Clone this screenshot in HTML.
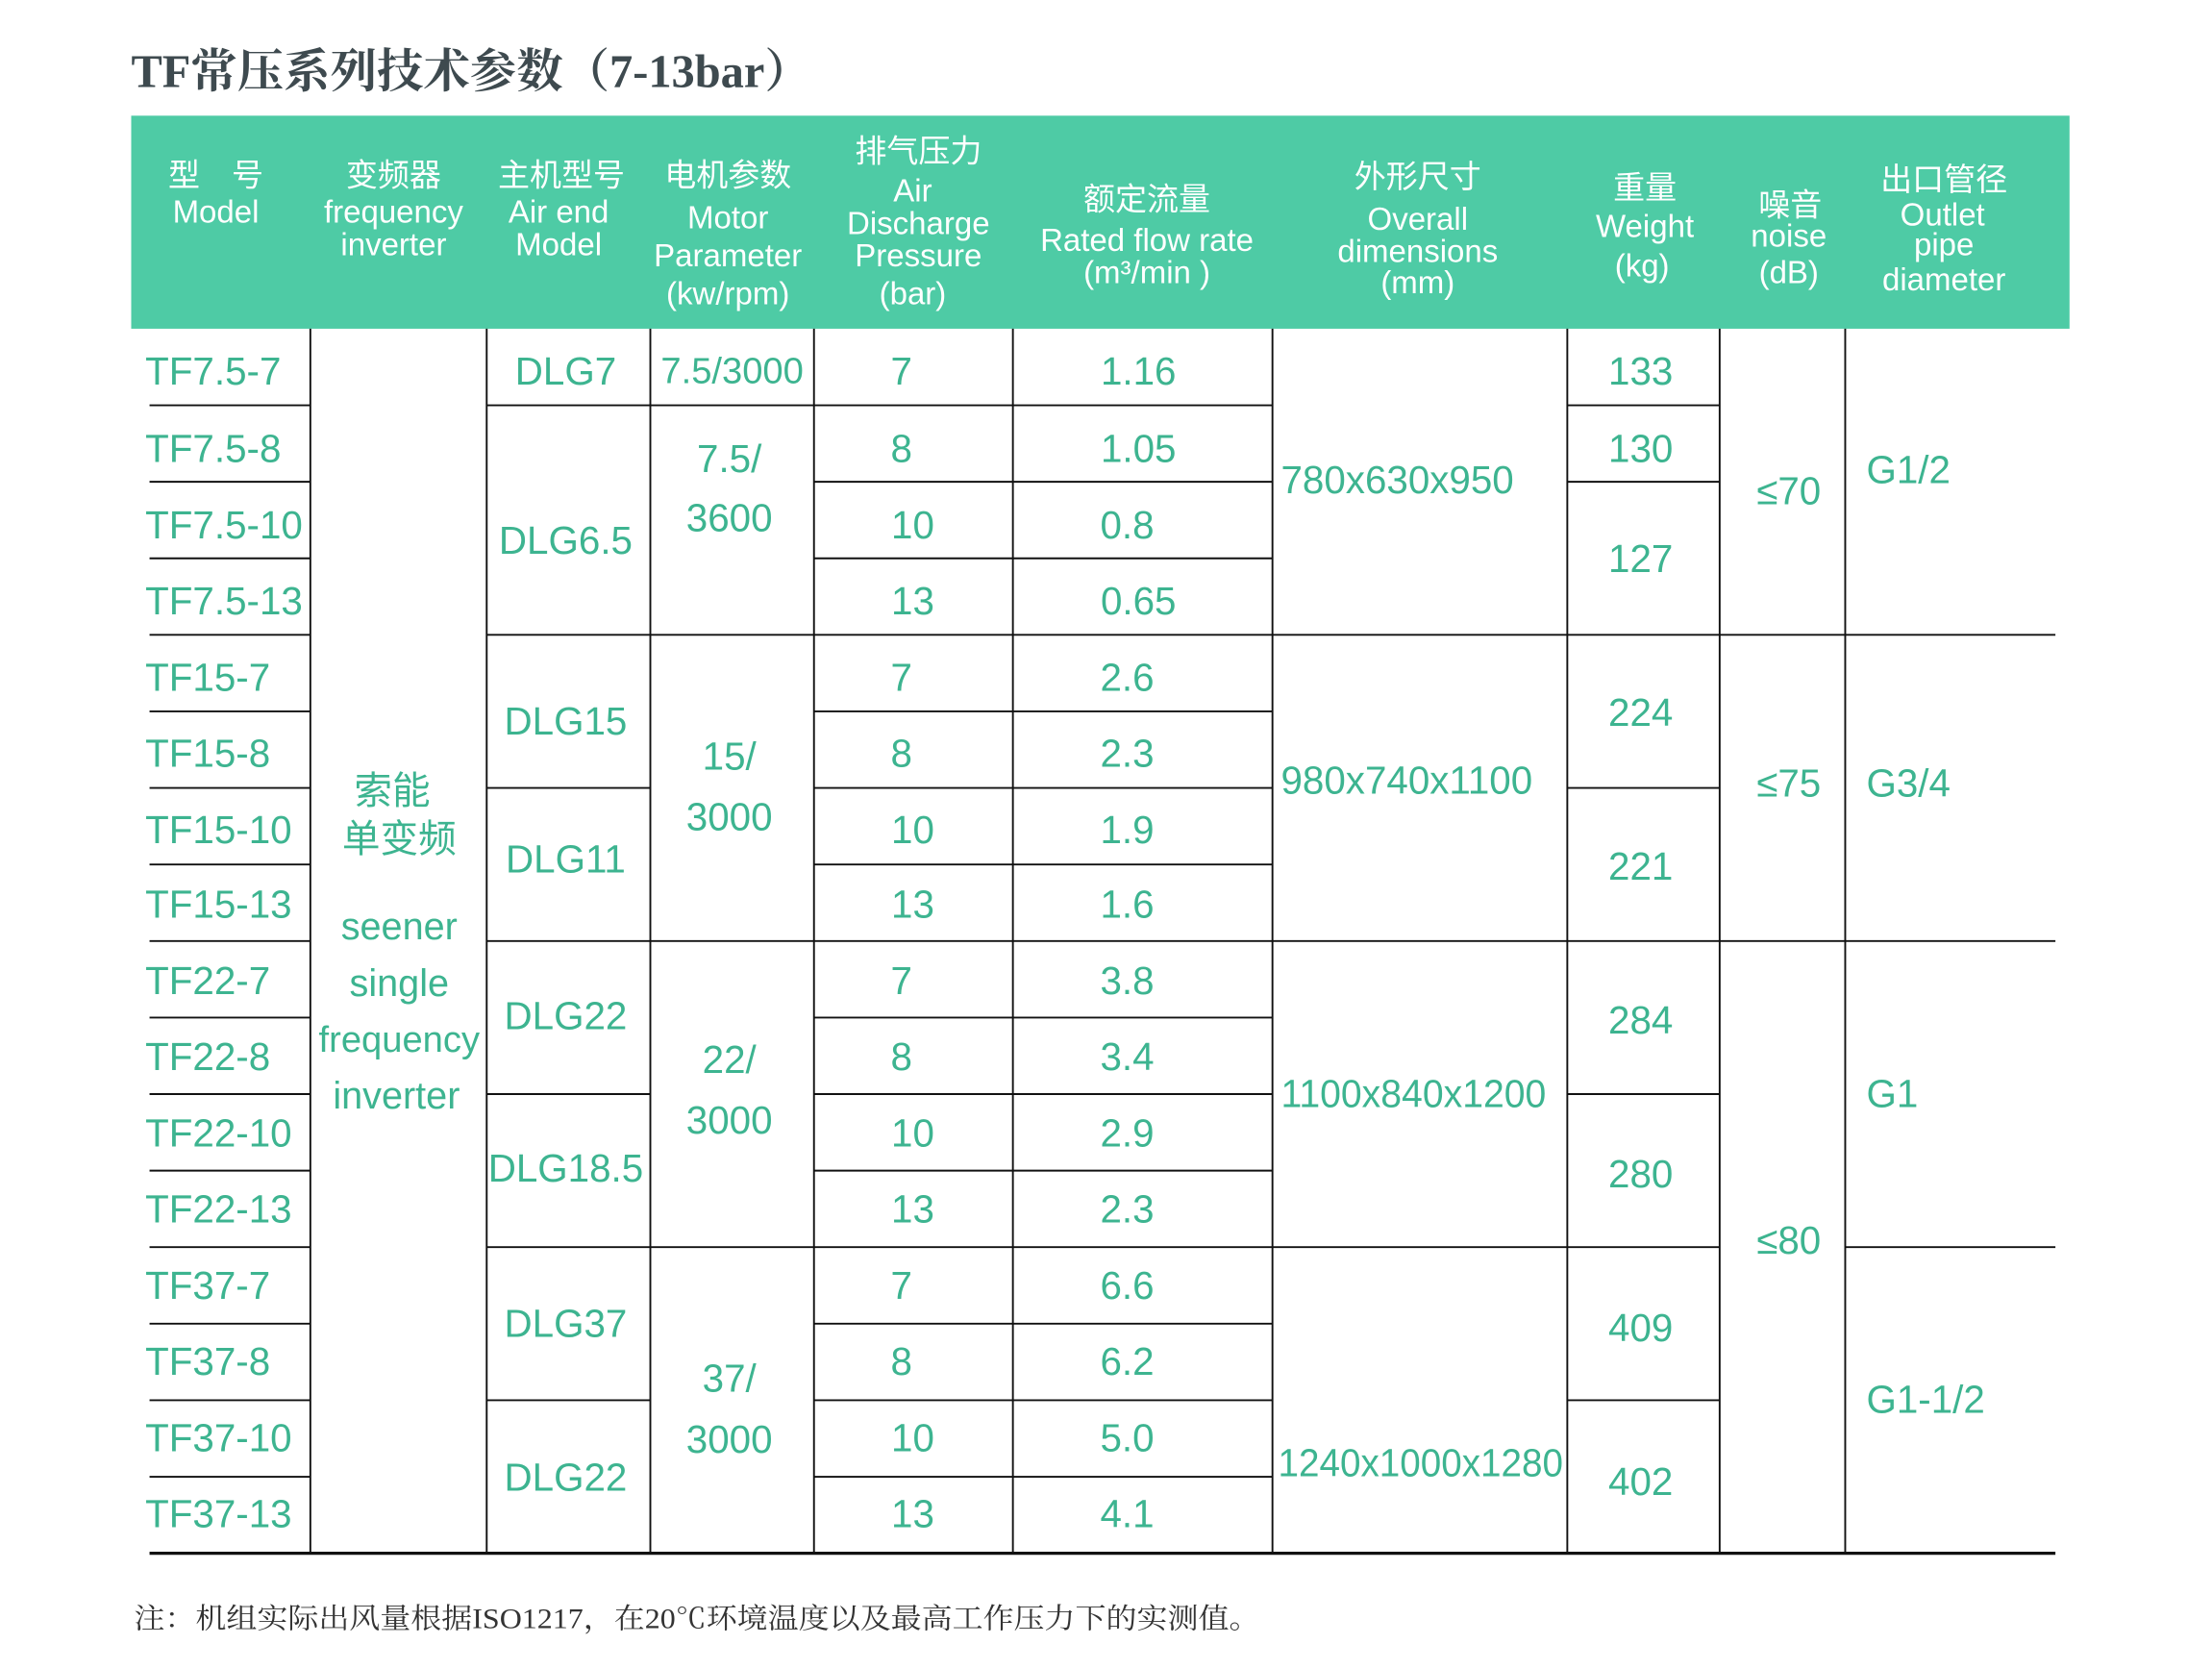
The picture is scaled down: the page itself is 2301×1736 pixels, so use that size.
<!DOCTYPE html>
<html><head><meta charset="utf-8">
<style>
html,body{margin:0;padding:0;background:#fff;}
svg{display:block;}
.h{fill:#fff;font-family:"Liberation Sans","Noto Sans CJK SC",sans-serif;font-size:22.5px;text-anchor:middle;dominant-baseline:central;}
.d{fill:#3db490;font-family:"Liberation Sans","Noto Sans CJK SC",sans-serif;font-size:27.5px;dominant-baseline:central;}
.c{text-anchor:middle;}
line{stroke:#111;stroke-width:1.3;}
</style></head><body>
<svg width="2301" height="1736" viewBox="0 0 1568 1183" preserveAspectRatio="none" xmlns="http://www.w3.org/2000/svg">
<text x="93" y="51" textLength="482" lengthAdjust="spacingAndGlyphs" style="font-family:'Liberation Serif','Noto Serif CJK SC',serif;font-weight:bold;font-size:33px;fill:#3e4a4f;dominant-baseline:central">TF常压系列技术参数（7-13bar）</text>
<rect x="93" y="82" width="1374" height="151" fill="#4ecba5"/>
<text class="h" x="153" y="124">型　号</text><text class="h" x="153" y="150">Model</text>
<text class="h" x="279" y="124">变频器</text><text class="h" x="279" y="150">frequency</text><text class="h" x="279" y="173">inverter</text>
<text class="h" x="398" y="124">主机型号</text><text class="h" x="396" y="150">Air end</text><text class="h" x="396" y="173">Model</text>
<text class="h" x="516" y="124">电机参数</text><text class="h" x="516" y="154">Motor</text><text class="h" x="516" y="181">Parameter</text><text class="h" x="516" y="208">(kw/rpm)</text>
<text class="h" x="651" y="107">排气压力</text><text class="h" x="647" y="135">Air</text><text class="h" x="651" y="158">Discharge</text><text class="h" x="651" y="181">Pressure</text><text class="h" x="647" y="208">(bar)</text>
<text class="h" x="813" y="141">额定流量</text><text class="h" x="813" y="170">Rated flow rate</text><text class="h" x="813" y="193">(m³/min )</text>
<text class="h" x="1005" y="125">外形尺寸</text><text class="h" x="1005" y="155">Overall</text><text class="h" x="1005" y="178">dimensions</text><text class="h" x="1005" y="200">(mm)</text>
<text class="h" x="1166" y="133">重量</text><text class="h" x="1166" y="160">Weight</text><text class="h" x="1164" y="188">(kg)</text>
<text class="h" x="1269" y="145">噪音</text><text class="h" x="1268" y="167">noise</text><text class="h" x="1268" y="193">(dB)</text>
<text class="h" x="1378" y="127">出口管径</text><text class="h" x="1377" y="152">Outlet</text><text class="h" x="1378" y="173">pipe</text><text class="h" x="1378" y="198">diameter</text>
<line x1="220" y1="233" x2="220" y2="1101"/><line x1="345" y1="233" x2="345" y2="1101"/>
<line x1="461" y1="233" x2="461" y2="1101"/><line x1="577" y1="233" x2="577" y2="1101"/>
<line x1="718" y1="233" x2="718" y2="1101"/><line x1="902" y1="233" x2="902" y2="1101"/>
<line x1="1111" y1="233" x2="1111" y2="1101"/><line x1="1219" y1="233" x2="1219" y2="1101"/>
<line x1="1308" y1="233" x2="1308" y2="1101"/>
<g>
<line x1="106" x2="220" y1="287.25" y2="287.25"/><line x1="106" x2="220" y1="341.5" y2="341.5"/><line x1="106" x2="220" y1="395.75" y2="395.75"/><line x1="106" x2="220" y1="450" y2="450"/><line x1="106" x2="220" y1="504.25" y2="504.25"/><line x1="106" x2="220" y1="558.5" y2="558.5"/><line x1="106" x2="220" y1="612.75" y2="612.75"/><line x1="106" x2="220" y1="667" y2="667"/><line x1="106" x2="220" y1="721.25" y2="721.25"/><line x1="106" x2="220" y1="775.5" y2="775.5"/><line x1="106" x2="220" y1="829.75" y2="829.75"/><line x1="106" x2="220" y1="884" y2="884"/><line x1="106" x2="220" y1="938.25" y2="938.25"/><line x1="106" x2="220" y1="992.5" y2="992.5"/><line x1="106" x2="220" y1="1046.75" y2="1046.75"/>
<line x1="577" x2="902" y1="287.25" y2="287.25"/><line x1="577" x2="902" y1="341.5" y2="341.5"/><line x1="577" x2="902" y1="395.75" y2="395.75"/><line x1="577" x2="902" y1="450" y2="450"/><line x1="577" x2="902" y1="504.25" y2="504.25"/><line x1="577" x2="902" y1="558.5" y2="558.5"/><line x1="577" x2="902" y1="612.75" y2="612.75"/><line x1="577" x2="902" y1="667" y2="667"/><line x1="577" x2="902" y1="721.25" y2="721.25"/><line x1="577" x2="902" y1="775.5" y2="775.5"/><line x1="577" x2="902" y1="829.75" y2="829.75"/><line x1="577" x2="902" y1="884" y2="884"/><line x1="577" x2="902" y1="938.25" y2="938.25"/><line x1="577" x2="902" y1="992.5" y2="992.5"/><line x1="577" x2="902" y1="1046.75" y2="1046.75"/>
<line x1="345" x2="461" y1="287.25" y2="287.25"/><line x1="345" x2="461" y1="450" y2="450"/><line x1="345" x2="461" y1="558.5" y2="558.5"/><line x1="345" x2="461" y1="667" y2="667"/><line x1="345" x2="461" y1="775.5" y2="775.5"/><line x1="345" x2="461" y1="884" y2="884"/><line x1="345" x2="461" y1="992.5" y2="992.5"/>
<line x1="461" x2="577" y1="287.25" y2="287.25"/><line x1="461" x2="577" y1="450" y2="450"/><line x1="461" x2="577" y1="667" y2="667"/><line x1="461" x2="577" y1="884" y2="884"/>
<line x1="902" x2="1111" y1="450" y2="450"/><line x1="902" x2="1111" y1="667" y2="667"/><line x1="902" x2="1111" y1="884" y2="884"/>
<line x1="1111" x2="1219" y1="287.25" y2="287.25"/><line x1="1111" x2="1219" y1="341.5" y2="341.5"/><line x1="1111" x2="1219" y1="450" y2="450"/><line x1="1111" x2="1219" y1="558.5" y2="558.5"/><line x1="1111" x2="1219" y1="667" y2="667"/><line x1="1111" x2="1219" y1="775.5" y2="775.5"/><line x1="1111" x2="1219" y1="884" y2="884"/><line x1="1111" x2="1219" y1="992.5" y2="992.5"/>
<line x1="1219" x2="1308" y1="450" y2="450"/><line x1="1219" x2="1308" y1="667" y2="667"/>
<line x1="1308" x2="1457" y1="450" y2="450"/><line x1="1308" x2="1457" y1="667" y2="667"/><line x1="1308" x2="1457" y1="884" y2="884"/>
<line x1="106" x2="1457" y1="1101" y2="1101" style="stroke-width:2.2"/>
</g>
<g class="d">
<text x="103" y="263">TF7.5-7</text><text x="103" y="318">TF7.5-8</text><text x="103" y="372">TF7.5-10</text><text x="103" y="426">TF7.5-13</text>
<text x="103" y="480">TF15-7</text><text x="103" y="534">TF15-8</text><text x="103" y="588">TF15-10</text><text x="103" y="641">TF15-13</text>
<text x="103" y="695">TF22-7</text><text x="103" y="749">TF22-8</text><text x="103" y="803">TF22-10</text><text x="103" y="857">TF22-13</text>
<text x="103" y="911">TF37-7</text><text x="103" y="965">TF37-8</text><text x="103" y="1019">TF37-10</text><text x="103" y="1073">TF37-13</text>
</g>
<g class="d c">
<text x="278" y="561" style="font-size:27px">索能</text><text x="283" y="595" style="font-size:27px">单变频</text>
<text x="283" y="657" style="font-size:27px">seener</text><text x="283" y="697" style="font-size:27px">single</text><text x="283" y="737" style="font-size:26px">frequency</text><text x="281" y="777" style="font-size:27px">inverter</text>
<text x="401" y="263">DLG7</text><text x="401" y="383">DLG6.5</text><text x="401" y="511">DLG15</text><text x="401" y="609">DLG11</text>
<text x="401" y="720">DLG22</text><text x="401" y="828">DLG18.5</text><text x="401" y="938">DLG37</text><text x="401" y="1047">DLG22</text>
<text x="519" y="263" style="font-size:26px">7.5/3000</text><text x="517" y="325">7.5/</text><text x="517" y="367">3600</text>
<text x="517" y="536">15/</text><text x="517" y="579">3000</text><text x="517" y="751">22/</text><text x="517" y="794">3000</text>
<text x="517" y="977">37/</text><text x="517" y="1020">3000</text>
<text x="639" y="263">7</text><text x="639" y="318">8</text><text x="647" y="372">10</text><text x="647" y="426">13</text>
<text x="639" y="480">7</text><text x="639" y="534">8</text><text x="647" y="588">10</text><text x="647" y="641">13</text>
<text x="639" y="695">7</text><text x="639" y="749">8</text><text x="647" y="803">10</text><text x="647" y="857">13</text>
<text x="639" y="911">7</text><text x="639" y="965">8</text><text x="647" y="1019">10</text><text x="647" y="1073">13</text>
<text x="807" y="263">1.16</text><text x="807" y="318">1.05</text><text x="799" y="372">0.8</text><text x="807" y="426">0.65</text>
<text x="799" y="480">2.6</text><text x="799" y="534">2.3</text><text x="799" y="588">1.9</text><text x="799" y="641">1.6</text>
<text x="799" y="695">3.8</text><text x="799" y="749">3.4</text><text x="799" y="803">2.9</text><text x="799" y="857">2.3</text>
<text x="799" y="911">6.6</text><text x="799" y="965">6.2</text><text x="799" y="1019">5.0</text><text x="799" y="1073">4.1</text>
<text x="1163" y="263">133</text><text x="1163" y="318">130</text><text x="1163" y="396">127</text><text x="1163" y="505">224</text>
<text x="1163" y="614">221</text><text x="1163" y="723">284</text><text x="1163" y="832">280</text><text x="1163" y="941">409</text><text x="1163" y="1050">402</text>
<text x="1268" y="348">≤70</text><text x="1268" y="555">≤75</text><text x="1268" y="879">≤80</text>
</g>
<g class="d">
<text x="908" y="340">780x630x950</text><text x="908" y="553">980x740x1100</text><text x="908" y="775" textLength="188" lengthAdjust="spacingAndGlyphs">1100x840x1200</text><text x="906" y="1037" textLength="202" lengthAdjust="spacingAndGlyphs">1240x1000x1280</text>
<text x="1323" y="333">G1/2</text><text x="1323" y="555">G3/4</text><text x="1323" y="775">G1</text><text x="1323" y="992">G1-1/2</text>
</g>
<text x="95" y="1148" textLength="798" lengthAdjust="spacingAndGlyphs" style="font-family:'Liberation Serif','Noto Serif CJK SC',serif;font-size:20px;fill:#333;dominant-baseline:central">注：机组实际出风量根据ISO1217，在20℃环境温度以及最高工作压力下的实测值。</text>
</svg>
</body></html>
